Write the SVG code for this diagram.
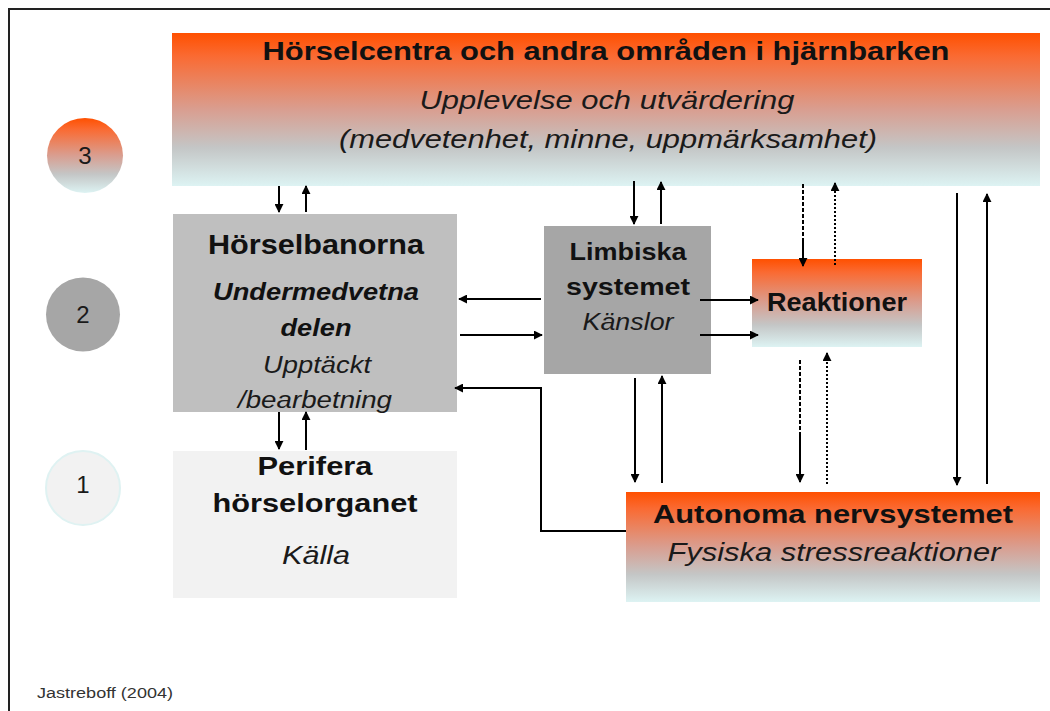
<svg xmlns="http://www.w3.org/2000/svg" width="1050" height="711" viewBox="0 0 1050 711">
  <defs>
    <linearGradient id="warm" x1="0" y1="0" x2="0" y2="1">
      <stop offset="0" stop-color="#ff5000"/>
      <stop offset="0.15" stop-color="#fa6a32"/>
      <stop offset="0.5" stop-color="#d99e90"/>
      <stop offset="0.75" stop-color="#c4c6c6"/>
      <stop offset="1" stop-color="#ddf3f3"/>
    </linearGradient>
    <marker id="head" viewBox="0 0 10 10" refX="9" refY="5" markerWidth="4.5" markerHeight="4.5" orient="auto" markerUnits="strokeWidth">
      <path d="M0,0 L10,5 L0,10 z" fill="#000"/>
    </marker>
    <style>
      .bold { font-family: "Liberation Sans", Arial, sans-serif; font-weight: bold; fill: #111; }
      .ital { font-family: "Liberation Sans", Arial, sans-serif; font-style: italic; fill: #1a1a1a; }
      .num { font-family: "Liberation Sans", Arial, sans-serif; font-size: 24px; fill: #1a1a1a; text-anchor: middle; }
      .mid { text-anchor: middle; }
      .arrow { stroke: #000; stroke-width: 2; fill: none; marker-end: url(#head); }
      .dash { stroke: #000; stroke-width: 2; fill: none; stroke-dasharray: 4 2; }
      .dot { stroke: #000; stroke-width: 2; fill: none; stroke-dasharray: 2 2; }
    </style>
  </defs>

  <rect x="0" y="0" width="1050" height="711" fill="#fff"/>
  <!-- frame -->
  <path d="M9,711 V9 H1050" fill="none" stroke="#222" stroke-width="2"/>

  <!-- level markers -->
  <g id="level-3">
    <ellipse cx="85" cy="155.5" rx="38" ry="37.5" fill="url(#warm)"/>
    <text class="num" x="85" y="164">3</text>
  </g>
  <g id="level-2">
    <circle cx="83" cy="314.5" r="37" fill="#a6a6a6"/>
    <text class="num" x="83" y="323">2</text>
  </g>
  <g id="level-1">
    <circle cx="83" cy="488" r="37" fill="#f2f2f2" stroke="#dff2f2" stroke-width="2"/>
    <text class="num" x="83" y="493">1</text>
  </g>

  <!-- cortex -->
  <g id="cortex">
    <rect x="172" y="33" width="868" height="153" fill="url(#warm)"/>
    <text class="bold mid" x="606" y="60" font-size="25" textLength="687" lengthAdjust="spacingAndGlyphs">Hörselcentra och andra områden i hjärnbarken</text>
    <text class="ital mid" x="607" y="109" font-size="25" textLength="375" lengthAdjust="spacingAndGlyphs">Upplevelse och utvärdering</text>
    <text class="ital mid" x="608" y="148" font-size="25" textLength="538" lengthAdjust="spacingAndGlyphs">(medvetenhet, minne, uppmärksamhet)</text>
  </g>

  <!-- auditory pathways -->
  <g id="horselbanorna">
    <rect x="173" y="214" width="284" height="198" fill="#bfbfbf"/>
    <text class="bold mid" x="316" y="254" font-size="27" textLength="216" lengthAdjust="spacingAndGlyphs">Hörselbanorna</text>
    <text class="bold mid" x="316" y="300" font-size="23" font-style="italic" textLength="206" lengthAdjust="spacingAndGlyphs">Undermedvetna</text>
    <text class="bold mid" x="316" y="336" font-size="23" font-style="italic" textLength="71" lengthAdjust="spacingAndGlyphs">delen</text>
    <text class="ital mid" x="317" y="373" font-size="23" textLength="108" lengthAdjust="spacingAndGlyphs">Upptäckt</text>
    <text class="ital mid" x="315" y="408" font-size="23" textLength="154" lengthAdjust="spacingAndGlyphs">/bearbetning</text>
  </g>

  <!-- limbic system -->
  <g id="limbiska">
    <rect x="544" y="226" width="167" height="148" fill="#a6a6a6"/>
    <text class="bold mid" x="628" y="260" font-size="23" textLength="117" lengthAdjust="spacingAndGlyphs">Limbiska</text>
    <text class="bold mid" x="628" y="295" font-size="23" textLength="124" lengthAdjust="spacingAndGlyphs">systemet</text>
    <text class="ital mid" x="628" y="330" font-size="23" textLength="91" lengthAdjust="spacingAndGlyphs">Känslor</text>
  </g>

  <!-- reactions -->
  <g id="reaktioner">
    <rect x="752" y="259" width="170" height="88" fill="url(#warm)"/>
    <text class="bold mid" x="837" y="311" font-size="25" textLength="140" lengthAdjust="spacingAndGlyphs">Reaktioner</text>
  </g>

  <!-- peripheral organ -->
  <g id="perifera">
    <rect x="173" y="451" width="284" height="147" fill="#f2f2f2"/>
    <text class="bold mid" x="315" y="475" font-size="26" textLength="115" lengthAdjust="spacingAndGlyphs">Perifera</text>
    <text class="bold mid" x="315" y="512" font-size="26" textLength="205" lengthAdjust="spacingAndGlyphs">hörselorganet</text>
    <text class="ital mid" x="316" y="564" font-size="26" textLength="68" lengthAdjust="spacingAndGlyphs">Källa</text>
  </g>

  <!-- autonomic nervous system -->
  <g id="autonoma">
    <rect x="626" y="492" width="414" height="110" fill="url(#warm)"/>
    <text class="bold mid" x="833" y="523" font-size="26" textLength="360" lengthAdjust="spacingAndGlyphs">Autonoma nervsystemet</text>
    <text class="ital mid" x="834" y="561" font-size="25" textLength="333" lengthAdjust="spacingAndGlyphs">Fysiska stressreaktioner</text>
  </g>

  <g id="connectors">
    <!-- cortex <-> auditory pathways -->
    <line class="arrow" x1="279" y1="186" x2="279" y2="212"/>
    <line class="arrow" x1="306" y1="212" x2="306" y2="186"/>
    <!-- cortex <-> limbic -->
    <line class="arrow" x1="634" y1="181" x2="634" y2="224"/>
    <line class="arrow" x1="661" y1="224" x2="661" y2="182"/>
    <!-- cortex <-> reactions -->
    <line class="dash" x1="803" y1="184" x2="803" y2="240"/>
    <line class="arrow" x1="803" y1="240" x2="803" y2="266"/>
    <line class="dot" x1="835" y1="265" x2="835" y2="190"/>
    <line class="arrow" x1="835" y1="190" x2="835" y2="183"/>
    <!-- cortex <-> autonomic -->
    <line class="arrow" x1="957" y1="193" x2="957" y2="485"/>
    <line class="arrow" x1="987" y1="484" x2="987" y2="194"/>
    <!-- limbic <-> auditory pathways -->
    <line class="arrow" x1="541" y1="299" x2="459" y2="299"/>
    <line class="arrow" x1="460" y1="335" x2="542" y2="335"/>
    <!-- limbic -> reactions -->
    <line class="arrow" x1="700" y1="300" x2="758" y2="300"/>
    <line class="arrow" x1="700" y1="335" x2="758" y2="335"/>
    <!-- auditory pathways <-> peripheral organ -->
    <line class="arrow" x1="279" y1="412" x2="279" y2="449"/>
    <line class="arrow" x1="306" y1="450" x2="306" y2="412"/>
    <!-- limbic <-> autonomic -->
    <line class="arrow" x1="635" y1="378" x2="635" y2="482"/>
    <line class="arrow" x1="662" y1="483" x2="662" y2="376"/>
    <!-- reactions <-> autonomic -->
    <line class="dash" x1="800" y1="360" x2="800" y2="432"/>
    <line class="arrow" x1="800" y1="432" x2="800" y2="482"/>
    <line class="dot" x1="827" y1="484" x2="827" y2="360"/>
    <line class="arrow" x1="827" y1="360" x2="827" y2="353"/>
    <!-- autonomic -> auditory pathways -->
    <polyline class="arrow" points="626,531 541,531 541,388 455,388"/>
  </g>

  <text x="37" y="698" font-family="'Liberation Sans', Arial, sans-serif" font-size="14" fill="#333" textLength="136" lengthAdjust="spacingAndGlyphs">Jastreboff (2004)</text>
</svg>
